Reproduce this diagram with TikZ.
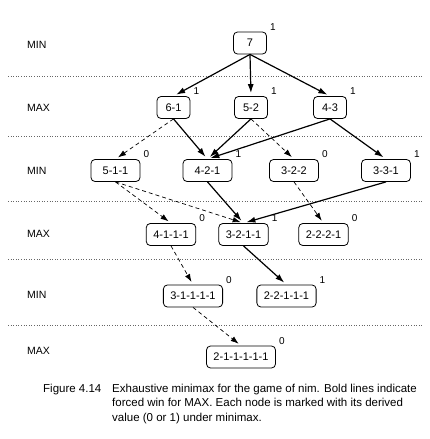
\documentclass[tikz,border=0pt]{standalone}
\usepackage{fontspec}
\setmainfont{Liberation Sans}
\usetikzlibrary{arrows.meta}
\tikzset{
	state/.style={draw, rounded corners=4pt, line width=0.8pt, minimum height=22pt,
			minimum width=33pt, inner xsep=7pt, font=\fontsize{11}{12}\selectfont},
	wide/.style={minimum width=49pt},
	val/.style={label={[xshift=2pt, inner sep=1pt, font=\fontsize{10}{12}\selectfont]north east:#1}},
	side/.style={anchor=west, inner sep=0pt, font=\fontsize{10.5}{12}\selectfont},
	divider/.style={dotted, line width=0.6pt, black!60},
	win/.style={line width=1.2pt, -{Latex[length=9pt,width=6pt]}, shorten >=3pt},
	lose/.style={line width=0.7pt, dash pattern=on 4pt off 3pt,
			-{Latex[length=8pt,width=5.5pt]}, shorten >=3pt}
}

\begin{document}
\begin{tikzpicture}[x=1pt, y=-1pt]
	\useasboundingbox (0,0) rectangle (430,439);

	% plies
	\foreach \y in {76,136,201,259,325}
		\draw[divider] (8,\y) -- (423,\y);
	\node[side] (p1) at (27,45) {MIN};
	\node[side] (p2) at (27,108) {MAX};
	\node[side] (p3) at (27,171) {MIN};
	\node[side] (p4) at (27,234) {MAX};
	\node[side] (p5) at (27,295) {MIN};
	\node[side] (p6) at (27,351) {MAX};

	% states
	\node[state, val=1] (n7) at (250,43) {7};

	\node[state, val=1] (n61) at (173.5,107.5) {6-1};
	\node[state, val=1] (n52) at (251,107.5) {5-2};
	\node[state, val=1] (n43) at (330,107.5) {4-3};

	\node[state, wide, val=0] (n511) at (115.5,170.5) {5-1-1};
	\node[state, wide, val=1] (n421) at (207.5,170.5) {4-2-1};
	\node[state, wide, val=0] (n322) at (294,170.5) {3-2-2};
	\node[state, wide, val=1] (n331) at (386,170.5) {3-3-1};

	\node[state, val=0] (n4111) at (171,234.5) {4-1-1-1};
	\node[state, val=1] (n3211) at (243.5,234.5) {3-2-1-1};
	\node[state, val=0] (n2221) at (323.5,234.5) {2-2-2-1};

	\node[state, val=0] (n31111) at (193,296) {3-1-1-1-1};
	\node[state, val=1] (n22111) at (286.5,296) {2-2-1-1-1};

	\node[state, val=0] (n211111) at (241,357) {2-1-1-1-1-1};

	% moves
	\foreach \a/\b in {n7/n61, n7/n52, n7/n43, n61/n421, n52/n421, n43/n421, n43/n331,
			n421/n3211, n331/n3211, n3211/n22111}
		\draw[win] (\a.south) -- (\b.north);
	\foreach \a/\b in {n61/n511, n52/n322, n511/n4111, n511/n3211, n322/n2221,
			n4111/n31111, n31111/n211111}
		\draw[lose] (\a.south) -- (\b.north);

	% caption
	\node[anchor=base west, inner sep=0pt, font=\fontsize{11.5}{14.5}\selectfont] (fig) at (43,392) {Figure 4.14};
	\node[anchor=north west, align=left, inner sep=0pt, font=\fontsize{11.5}{14.5}\selectfont] (cap) at (112,383.5)
		{Exhaustive minimax for the game of nim. Bold lines indicate\\
		forced win for MAX. Each node is marked with its derived\\
		value (0 or 1) under minimax.};
\end{tikzpicture}
\end{document}
